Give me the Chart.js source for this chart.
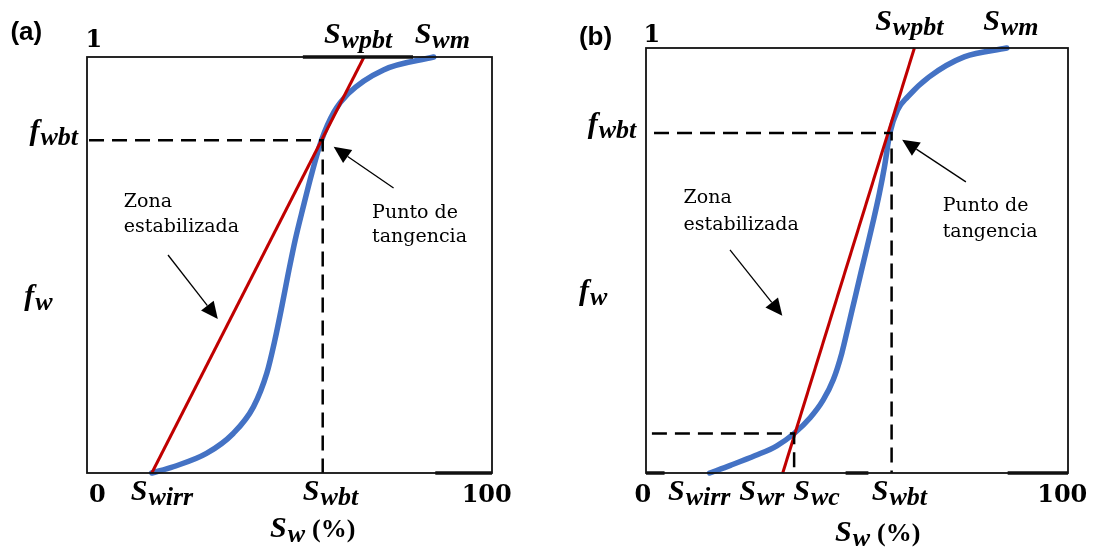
<!DOCTYPE html>
<html>
<head>
<meta charset="utf-8">
<script src="https://cdn.jsdelivr.net/npm/chart.js@4.4.1/dist/chart.umd.min.js"></script>
<style>
    body { margin: 0; background: #fff; width: 1093px; height: 548px; overflow: hidden; position: relative; }
    canvas { position: absolute; top: 0; }
    #chartA { left: 0; }
    #chartB { left: 546px; }
</style>
</head>
<body>
<canvas id="chartA" width="546" height="548"></canvas>
<canvas id="chartB" width="547" height="548"></canvas>
<script>
// panel (a): fractional flow curve fw(Sw) and its tangent from Swirr
const swA = [16.0, 21.3, 29.5, 36.1, 41.1, 44.4, 46.4, 48.1, 49.7, 51.4, 53.4, 55.5, 57.9, 61.0, 64.5, 73.2, 85.6]
const fwA = [0, 0.015, 0.047, 0.095, 0.159, 0.24, 0.32, 0.40, 0.48, 0.56, 0.64, 0.72, 0.80, 0.868, 0.912, 0.969, 1]
const tangentSwA = [16.0, 68.4]
const tangentFwA = [0, 1]
const swbtA = 58.2
const fwbtA = 0.80

// panel (b): same curve, tangent crossing it at Swc
const swB = [15.1, 20.0, 25.9, 31.0, 35.1, 38.9, 42.0, 44.4, 46.4, 47.9, 49.4, 50.9, 52.4, 53.9, 55.3, 56.5, 57.8, 59.6, 62.0, 67.1, 75.4, 85.5]
const fwB = [0, 0.018, 0.041, 0.064, 0.093, 0.13, 0.172, 0.22, 0.282, 0.344, 0.407, 0.47, 0.532, 0.595, 0.658, 0.72, 0.80, 0.854, 0.885, 0.932, 0.979, 1]
const tangentSwB = [32.4, 63.6]
const tangentFwB = [0, 1]
const swbtB = 58.2
const fwbtB = 0.80
const swcB = 35.1
const fwcB = 0.093

const BLUE = '#4472c4'
const RED = '#c00000'
const MATH = '"Liberation Serif", serif'
const TEXT = '"DejaVu Serif", serif'

function toPoints(xs, ys) {
    return xs.map((x, i) => ({ x, y: ys[i] }))
}

function dashed(points) {
    return {
        data: points,
        borderColor: '#000',
        borderWidth: 2.5,
        borderDash: [15, 8],
        pointRadius: 0,
        showLine: true,
        clip: false
    }
}

function drawArrow(ctx, x1, y1, x2, y2) {
    const ang = Math.atan2(y2 - y1, x2 - x1)
    const len = 17, half = 8
    const bx = x2 - len * Math.cos(ang), by = y2 - len * Math.sin(ang)
    ctx.strokeStyle = '#000'
    ctx.lineWidth = 1.3
    ctx.beginPath()
    ctx.moveTo(x1, y1)
    ctx.lineTo(bx, by)
    ctx.stroke()
    ctx.fillStyle = '#000'
    ctx.beginPath()
    ctx.moveTo(x2, y2)
    ctx.lineTo(bx + half * Math.sin(ang), by - half * Math.cos(ang))
    ctx.lineTo(bx - half * Math.sin(ang), by + half * Math.cos(ang))
    ctx.closePath()
    ctx.fill()
}

const annotPlugin = {
    id: 'annot',
    afterDatasetsDraw(chart, args, opts) {
        const { ctx, chartArea: a, scales } = chart
        const px = v => scales.x.getPixelForValue(v)
        const py = v => scales.y.getPixelForValue(v)
        ctx.save()

        // frame
        ctx.strokeStyle = '#111'
        ctx.lineWidth = 1.8
        ctx.strokeRect(a.left, a.top, a.right - a.left, a.bottom - a.top)
        ctx.lineWidth = 3.5
        opts.accents.forEach(s => {
            ctx.beginPath()
            ctx.moveTo(px(s[0]), py(s[2]))
            ctx.lineTo(px(s[1]), py(s[2]))
            ctx.stroke()
        })

        ctx.textBaseline = 'alphabetic'
        ctx.textAlign = 'left'
        ctx.fillStyle = '#000'
        opts.labels.forEach(l => {
            const x = px(l.x), y = py(l.y)
            if (l.kind === 'math') {
                ctx.font = `bold italic 30px ${MATH}`
                ctx.fillText(l.t, x, y)
                const w = ctx.measureText(l.t).width
                ctx.font = `bold italic 26px ${MATH}`
                ctx.fillText(l.s, x + w + 1, y + 5)
                if (l.tail) {
                    const w2 = ctx.measureText(l.s).width
                    ctx.font = `bold 26px ${MATH}`
                    ctx.fillText(l.tail, x + w + w2 + 8, y)
                }
            } else if (l.kind === 'num') {
                ctx.font = `bold 24px ${TEXT}`
                ctx.fillText(l.t, x, y)
            } else if (l.kind === 'tag') {
                ctx.font = 'bold 26px "Liberation Sans", sans-serif'
                ctx.fillText(l.t, x, y)
            } else {
                ctx.font = `19px ${TEXT}`
                ctx.fillText(l.t, x, y)
            }
        })

        opts.arrows.forEach(r => drawArrow(ctx, px(r[0]), py(r[1]), px(r[2]), py(r[3])))
        ctx.restore()
    }
}

function makeChart(id, padding, datasets, annot) {
    return new Chart(document.getElementById(id), {
        type: 'scatter',
        data: { datasets },
        options: {
            responsive: false,
            animation: false,
            layout: { padding },
            scales: {
                x: { type: 'linear', min: 0, max: 100, display: false },
                y: { type: 'linear', min: 0, max: 1, display: false }
            },
            plugins: {
                legend: { display: false },
                tooltip: { enabled: false },
                annot
            }
        },
        plugins: [annotPlugin]
    })
}

makeChart('chartA', { left: 87, right: 54, top: 57, bottom: 75 }, [
    dashed([{ x: 0.5, y: fwbtA }, { x: swbtA, y: fwbtA }, { x: swbtA, y: 0 }]),
    {
        data: toPoints(tangentSwA, tangentFwA),
        borderColor: RED, borderWidth: 3, pointRadius: 0, showLine: true, clip: false
    },
    {
        data: toPoints(swA, fwA),
        borderColor: BLUE, borderWidth: 5.5, pointRadius: 0, showLine: true,
        cubicInterpolationMode: 'monotone', borderCapStyle: 'round', clip: false
    }
], {
    accents: [[53.3, 80.5, 1], [86, 100, 0]],
    labels: [
        { kind: 'tag', t: '(a)', x: -18.9, y: 1.041 },
        { kind: 'num', t: '1', x: -0.4, y: 1.024 },
        { kind: 'math', t: 'S', s: 'wpbt', x: 58.5, y: 1.034 },
        { kind: 'math', t: 'S', s: 'wm', x: 80.9, y: 1.034 },
        { kind: 'math', t: 'f', s: 'wbt', x: -14.2, y: 0.80 },
        { kind: 'math', t: 'f', s: 'w', x: -15.5, y: 0.404 },
        { kind: 'num', t: '0', x: 0.5, y: -0.07 },
        { kind: 'math', t: 'S', s: 'wirr', x: 10.8, y: -0.065 },
        { kind: 'math', t: 'S', s: 'wbt', x: 53.3, y: -0.065 },
        { kind: 'num', t: '100', x: 92.5, y: -0.07 },
        { kind: 'math', t: 'S', s: 'w', tail: '(%)', x: 45.2, y: -0.154 },
        { kind: 'text', t: 'Zona', x: 9.1, y: 0.639 },
        { kind: 'text', t: 'estabilizada', x: 9.1, y: 0.579 },
        { kind: 'text', t: 'Punto de', x: 70.4, y: 0.613 },
        { kind: 'text', t: 'tangencia', x: 70.4, y: 0.555 }
    ],
    arrows: [[20.0, 0.524, 32.3, 0.370], [75.7, 0.685, 60.9, 0.784]]
})

makeChart('chartB', { left: 100, right: 25, top: 48, bottom: 75 }, [
    dashed([{ x: 1.9, y: fwbtB }, { x: swbtB, y: fwbtB }, { x: swbtB, y: 0 }]),
    dashed([{ x: 1.4, y: fwcB }, { x: swcB, y: fwcB }, { x: swcB, y: 0 }]),
    {
        data: toPoints(tangentSwB, tangentFwB),
        borderColor: RED, borderWidth: 3, pointRadius: 0, showLine: true, clip: false
    },
    {
        data: toPoints(swB, fwB),
        borderColor: BLUE, borderWidth: 5.5, pointRadius: 0, showLine: true,
        cubicInterpolationMode: 'monotone', borderCapStyle: 'round', clip: false
    }
], {
    accents: [[0, 4.4, 0], [47.3, 52.7, 0], [85.7, 100, 0]],
    labels: [
        { kind: 'tag', t: '(b)', x: -15.9, y: 1.007 },
        { kind: 'num', t: '1', x: -0.6, y: 1.014 },
        { kind: 'math', t: 'S', s: 'wpbt', x: 54.3, y: 1.042 },
        { kind: 'math', t: 'S', s: 'wm', x: 79.9, y: 1.042 },
        { kind: 'math', t: 'f', s: 'wbt', x: -13.8, y: 0.80 },
        { kind: 'math', t: 'f', s: 'w', x: -15.9, y: 0.407 },
        { kind: 'num', t: '0', x: -2.7, y: -0.068 },
        { kind: 'math', t: 'S', s: 'wirr', x: 5.2, y: -0.064 },
        { kind: 'math', t: 'S', s: 'wr', x: 22.1, y: -0.064 },
        { kind: 'math', t: 'S', s: 'wc', x: 34.9, y: -0.064 },
        { kind: 'math', t: 'S', s: 'wbt', x: 53.5, y: -0.064 },
        { kind: 'num', t: '100', x: 92.7, y: -0.068 },
        { kind: 'math', t: 'S', s: 'w', tail: '(%)', x: 44.8, y: -0.16 },
        { kind: 'text', t: 'Zona', x: 8.9, y: 0.635 },
        { kind: 'text', t: 'estabilizada', x: 8.9, y: 0.572 },
        { kind: 'text', t: 'Punto de', x: 70.3, y: 0.616 },
        { kind: 'text', t: 'tangencia', x: 70.3, y: 0.556 }
    ],
    arrows: [[19.9, 0.525, 32.3, 0.370], [75.8, 0.685, 60.7, 0.784]]
})
</script>
</body>
</html>
